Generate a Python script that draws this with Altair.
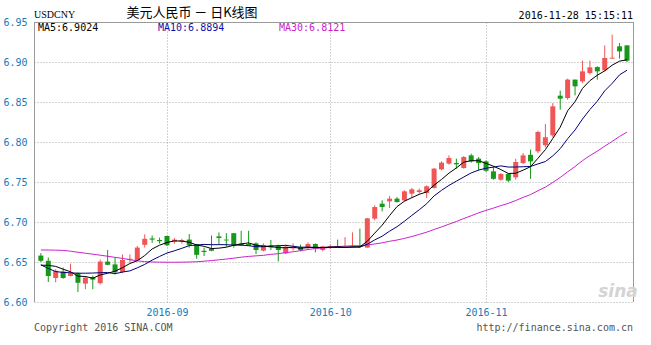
import altair as alt
import pandas as pd

# ---- data (USD/CNY daily K-line, 2016-08-09 .. 2016-11-28) ----
opens = [6.658, 6.6515, 6.630, 6.638, 6.6325, 6.636, 6.623, 6.631, 6.6235, 6.6505,
         6.647, 6.6375, 6.6525, 6.6525, 6.6715, 6.6795, 6.6775, 6.6825, 6.6755, 6.6755,
         6.678, 6.672, 6.664, 6.667, 6.682, 6.678, 6.686, 6.673, 6.6725, 6.6733,
         6.6642, 6.6704, 6.6704, 6.6608, 6.667, 6.6683, 6.6675, 6.6725, 6.665, 6.6683,
         6.670, 6.668, 6.668, 6.670, 6.668, 6.7042, 6.7229, 6.7258, 6.7292, 6.727,
         6.7354, 6.7375, 6.7362, 6.7425, 6.7658, 6.773, 6.7737, 6.7675, 6.7833, 6.7792,
         6.7758, 6.7633, 6.7529, 6.760, 6.7558, 6.7737, 6.784, 6.7883, 6.7958, 6.8083,
         6.8579, 6.855, 6.878, 6.8758, 6.8862, 6.8937, 6.8896, 6.9042, 6.9196, 6.9208]
highs = [6.661, 6.6555, 6.641, 6.643, 6.648, 6.637, 6.6325, 6.633, 6.653, 6.665,
         6.6555, 6.6595, 6.6595, 6.670, 6.6845, 6.683, 6.6805, 6.683, 6.680, 6.679,
         6.685, 6.672, 6.668, 6.683, 6.687, 6.686, 6.686, 6.689, 6.689, 6.6746,
         6.6733, 6.6775, 6.6717, 6.6717, 6.6733, 6.6717, 6.6746, 6.6733, 6.6704, 6.6717,
         6.678, 6.681, 6.687, 6.6917, 6.705, 6.7208, 6.7271, 6.7325, 6.7312, 6.7396,
         6.7425, 6.7417, 6.7458, 6.7675, 6.7758, 6.7833, 6.7792, 6.7825, 6.7854, 6.7812,
         6.777, 6.7695, 6.7612, 6.7612, 6.779, 6.7862, 6.7904, 6.814, 6.8225, 6.8487,
         6.8642, 6.8792, 6.878, 6.9017, 6.9017, 6.8946, 6.9208, 6.9342, 6.9237, 6.9208]
lows = [6.650, 6.625, 6.6245, 6.629, 6.632, 6.6125, 6.616, 6.616, 6.622, 6.646,
        6.6345, 6.636, 6.649, 6.651, 6.668, 6.674, 6.673, 6.670, 6.673, 6.673,
        6.668, 6.654, 6.6575, 6.6635, 6.6725, 6.669, 6.668, 6.670, 6.6705, 6.660,
        6.6633, 6.665, 6.6508, 6.660, 6.6642, 6.6633, 6.6663, 6.6621, 6.6633, 6.6663,
        6.6675, 6.668, 6.668, 6.668, 6.668, 6.7021, 6.7133, 6.7175, 6.7242, 6.7258,
        6.730, 6.7354, 6.730, 6.7417, 6.7646, 6.7717, 6.7667, 6.7667, 6.7742, 6.7646,
        6.7625, 6.7529, 6.7517, 6.750, 6.7529, 6.7725, 6.754, 6.786, 6.7933, 6.8058,
        6.8404, 6.8529, 6.8583, 6.8737, 6.8842, 6.8779, 6.8883, 6.9042, 6.9042, 6.900]
closes = [6.6515, 6.6325, 6.639, 6.630, 6.636, 6.624, 6.6305, 6.628, 6.6505, 6.6465,
          6.637, 6.6525, 6.654, 6.668, 6.679, 6.678, 6.676, 6.671, 6.678, 6.6775,
          6.671, 6.659, 6.6625, 6.664, 6.680, 6.677, 6.671, 6.671, 6.6705, 6.665,
          6.6713, 6.6683, 6.665, 6.6692, 6.6683, 6.665, 6.6725, 6.6663, 6.6692, 6.6696,
          6.668, 6.669, 6.669, 6.669, 6.7046, 6.7187, 6.7187, 6.7292, 6.725, 6.7383,
          6.7408, 6.7396, 6.7446, 6.7667, 6.7742, 6.780, 6.7721, 6.7812, 6.7758, 6.7737,
          6.764, 6.754, 6.760, 6.7517, 6.775, 6.7833, 6.7758, 6.8125, 6.8058, 6.8446,
          6.8542, 6.878, 6.8696, 6.8883, 6.8933, 6.8883, 6.905, 6.9054, 6.9133, 6.9017]

# moving-average values at the left edge (need data before the window)
ma5_head = [6.646, 6.6458, 6.6445, 6.641]
ma10_head = [6.6465, 6.642, 6.638, 6.637, 6.6365, 6.636, 6.636, 6.6362, 6.6366]
ma30_head = [6.665, 6.665, 6.6648, 6.6645, 6.6635, 6.6622, 6.661, 6.6598, 6.6585, 6.6572,
             6.6558, 6.6545, 6.6528, 6.6515, 6.6505, 6.650, 6.6498, 6.6497, 6.6497, 6.6498,
             6.650, 6.6503, 6.651, 6.6518, 6.6527, 6.6537, 6.6548, 6.656, 6.657]

month_ticks = [17, 39, 60]
month_labels = ["2016-09", "2016-10", "2016-11"]
y_ticks = [6.60, 6.65, 6.70, 6.75, 6.80, 6.85, 6.90, 6.95]

title_text = "美元人民币 － 日K线图"
symbol_text = "USDCNY"
time_text = "2016-11-28 15:15:11"
ma_texts = ["MA5:6.9024", "MA10:6.8894", "MA30:6.8121"]
copyright_text = "Copyright 2016 SINA.COM"
url_text = "http://finance.sina.com.cn"

# ---- style ----
RED = "#f05656"
GREEN = "#18981a"
AXIS_BLUE = "#2179b5"
GRID = "#a8a8a8"
MONO = "DejaVu Sans Mono"
W, H = 600, 280

n = len(closes)


def pad(a):
    return a + [None] * (n - len(a))


df = pd.DataFrame({
    "i": list(range(n)),
    "open": opens, "high": highs, "low": lows, "close": closes,
    "ma5_head": pad(ma5_head), "ma10_head": pad(ma10_head), "ma30_head": pad(ma30_head),
})
df["dir"] = ["up" if c >= o else "down" for o, c in zip(opens, closes)]

label_expr = ""
for t, l in zip(month_ticks, month_labels):
    label_expr += f"datum.value == {t} ? '{l}' : "
label_expr += "''"

x_axis = alt.Axis(values=month_ticks, labelExpr=label_expr, grid=True, gridDash=[1, 2],
                  gridColor=GRID, ticks=False, domain=False, labelColor=AXIS_BLUE,
                  labelFont=MONO, labelFontSize=10, labelPadding=5, title=None,
                  labelOverlap=False)
x_scale = alt.Scale(domain=[-0.25, 79.27], nice=False, zero=False)
y_axis = alt.Axis(values=y_ticks, format=".2f", grid=True, gridDash=[1, 2],
                  gridColor=GRID, ticks=False, domain=False, labelColor=AXIS_BLUE,
                  labelFont=MONO, labelFontSize=10, labelPadding=7, title=None,
                  labelOverlap=False, labelBound=False, labelFlush=False)
y_scale = alt.Scale(domain=[6.60, 6.95], nice=False, zero=False)


def X():
    return alt.X("i:Q", scale=x_scale, axis=x_axis)


def Y(field):
    return alt.Y(field, scale=y_scale, axis=y_axis)


color_enc = alt.Color("dir:N", scale=alt.Scale(domain=["up", "down"], range=[RED, GREEN]),
                      legend=None)

base = alt.Chart(df)

wicks = base.mark_rule(strokeWidth=1).encode(
    x=X(), y=Y("low:Q"), y2="high:Q", color=color_enc,
)

bodies = base.mark_bar(size=5).encode(
    x=X(), y=Y("open:Q"), y2="close:Q", color=color_enc,
)

ma_base = base.transform_window(
    ma5c="mean(close)", frame=[-4, 0], sort=[alt.SortField("i")]
).transform_window(
    ma10c="mean(close)", frame=[-9, 0], sort=[alt.SortField("i")]
).transform_window(
    ma30c="mean(close)", frame=[-29, 0], sort=[alt.SortField("i")]
).transform_calculate(
    ma5=f"datum.i < {len(ma5_head)} ? datum.ma5_head : datum.ma5c",
    ma10=f"datum.i < {len(ma10_head)} ? datum.ma10_head : datum.ma10c",
    ma30=f"datum.i < {len(ma30_head)} ? datum.ma30_head : datum.ma30c",
)

ma30_line = ma_base.mark_line(color="#cc22cc", strokeWidth=1).encode(x=X(), y=Y("ma30:Q"))
ma10_line = ma_base.mark_line(color="#00007a", strokeWidth=1).encode(x=X(), y=Y("ma10:Q"))
ma5_line = ma_base.mark_line(color="#000000", strokeWidth=1).encode(x=X(), y=Y("ma5:Q"))


def label(text, x, y, **kw):
    return alt.Chart(pd.DataFrame({"t": [text]})).mark_text(**kw).encode(
        x=alt.value(x), y=alt.value(y), text="t:N")


def rule(**enc):
    return alt.Chart(pd.DataFrame({"a": [0]})).mark_rule(color="#9a9a9a", strokeWidth=1).encode(**enc)


border = [
    rule(x=alt.value(0.5), y=alt.value(0), y2=alt.value(H)),
    rule(x=alt.value(W - 0.5), y=alt.value(0), y2=alt.value(H)),
    rule(x=alt.value(0), x2=alt.value(W), y=alt.value(0.5)),
]

texts = [
    label(symbol_text, 0, -7, align="left", baseline="middle", font="Liberation Serif",
          fontSize=10, color="#000"),
    label(title_text, 158, -9, align="center", baseline="middle", font="Noto Sans CJK SC",
          fontSize=13, color="#000"),
    label(time_text, 599, -6, align="right", baseline="middle", font=MONO, fontSize=10,
          color="#000"),
    label(ma_texts[0], 4, 6, align="left", baseline="middle", font=MONO, fontSize=10,
          color="#000"),
    label(ma_texts[1], 124, 6, align="left", baseline="middle", font=MONO, fontSize=10,
          color="#1010a8"),
    label(ma_texts[2], 245, 6, align="left", baseline="middle", font=MONO, fontSize=10,
          color="#cc22cc"),
    label(copyright_text, 0, 306, align="left", baseline="middle", font=MONO, fontSize=10,
          color="#555"),
    label(url_text, 599, 306, align="right", baseline="middle", font=MONO, fontSize=10,
          color="#555"),
    label("sina", 584, 270, align="center", baseline="middle", font="DejaVu Sans",
          fontSize=17, fontStyle="italic", fontWeight="bold", color="#d4d4d4"),
]

chart = alt.layer(
    wicks, bodies, ma30_line, ma10_line, ma5_line, *border, *texts
).properties(
    width=W, height=H,
    autosize=alt.AutoSizeParams(type="none"),
    padding={"left": 34, "top": 22, "right": 17, "bottom": 43},
    background="white",
).configure_view(stroke=None)

chart.save("out.html", embed_options={"renderer": "svg", "actions": False})
